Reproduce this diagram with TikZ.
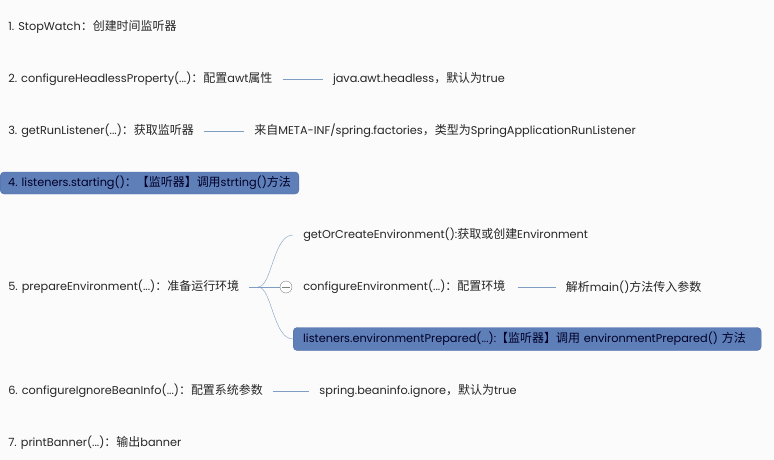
\documentclass[tikz,border=0pt]{standalone}
\usepackage{fontspec}
\setmainfont{Poppins}
\newfontfamily\cjk[Scale=1.06]{Noto Sans CJK SC}
\usetikzlibrary{positioning}
\newcommand{\zh}[1]{{\cjk #1}}
\definecolor{bgcol}{HTML}{FBFBFB}
\definecolor{txtcol}{HTML}{262626}
\definecolor{boxcol}{HTML}{5F7FB9}
\definecolor{boxline}{HTML}{4E6DA6}
\definecolor{linkcol}{HTML}{7F9DC3}

\begin{document}
\begin{tikzpicture}[
    x = 1pt, y = -1pt, % pixel grid
    font = \fontsize{11.3}{13}\selectfont,
    text = txtcol,
    node distance = 44pt, % gap between topic and note
    semithick
]

\tikzstyle{topic}=[
    anchor = west,
    inner xsep = 8pt,
    inner ysep = 0pt,
    minimum height = 22pt
]
\tikzstyle{hot}=[
    fill = boxcol,
    draw = boxline,
    thin,
    rounded corners = 4pt,
    text = black!85!blue
]
\tikzstyle{link}=[draw = linkcol, thin]

\useasboundingbox[fill = bgcol] (0,0) rectangle (774,460);

\node[topic] (StopWatch) at (0,27) {1. StopWatch\zh{：创建时间监听器}};
\node[topic] (Headless) at (0,79) {2. configureHeadlessProperty(...)\zh{：配置}awt\zh{属性}};
\node[topic] (Headless Note) [right = of Headless] {java.awt.headless\zh{，默认为}true};
\node[topic] (Run Listener) at (0,131) {3. getRunListener(...)\zh{：获取监听器}};
\node[topic] (Run Listener Note) [right = of Run Listener] {\zh{来自}META-INF/spring.factories\zh{，类型为}SpringApplicationRunListener};
\node[topic, hot] (Starting) at (0,183) {4. listeners.starting()\zh{：【监听器】调用}strting()\zh{方法}};
\node[topic] (Prepare Env) at (0,287) {5. prepareEnvironment(...)\zh{：准备运行环境}};
\node[topic] (Bean Info) at (0,391) {6. configureIgnoreBeanInfo(...)\zh{：配置系统参数}};
\node[topic] (Bean Info Note) [right = 40pt of Bean Info] {spring.beaninfo.ignore\zh{，默认为}true};
\node[topic] (Banner) at (0,443) {7. printBanner(...)\zh{：输出}banner};

% children of step 5
\coordinate (Fork) at (258,287);
\node[topic, inner xsep = 10pt] (Create Env) at (293,235) {getOrCreateEnvironment():\zh{获取或创建}Environment};
\node[topic, inner xsep = 10pt] (Configure Env) at (293,287) {configureEnvironment(...)\zh{：配置环境}};
\node[topic] (Configure Env Note) [right = 42pt of Configure Env] {\zh{解析}main()\zh{方法传入参数}};
\node[topic, hot, inner xsep = 10pt, minimum height = 23pt, text width = 448pt] (Env Prepared) at (293,339) {listeners.environmentPrepared(...):\zh{【监听器】调用} environmentPrepared() \zh{方法}};
\node[circle, draw = gray, thin, fill = white, minimum size = 12pt, inner sep = 0pt] (Collapse) at (286,287) {};
\draw[gray, thin] ([xshift = 2.5pt]Collapse.west) -- ([xshift = -2.5pt]Collapse.east);

\path[link, shorten < = 2pt, shorten > = 2pt] (Headless) edge (Headless Note);
\path[link, shorten < = 2pt, shorten > = 2pt] (Run Listener) edge (Run Listener Note);
\path[link, shorten < = 2pt, shorten > = 2pt] (Bean Info) edge (Bean Info Note);
\path[link, shorten < = 2pt, shorten > = 2pt] (Configure Env) edge (Configure Env Note);

\draw[link, shorten < = 2pt] (Prepare Env) -- (Fork);
\draw[link] (Fork) .. controls +(14,0) and +(-20,0) .. (Create Env.west);
\draw[link] (Fork) -- (Collapse.west);
\draw[link] (Fork) .. controls +(14,0) and +(-20,0) .. (Env Prepared.west);

%\draw[red] (0,287) -- (774,287);
\end{tikzpicture}
\end{document}
